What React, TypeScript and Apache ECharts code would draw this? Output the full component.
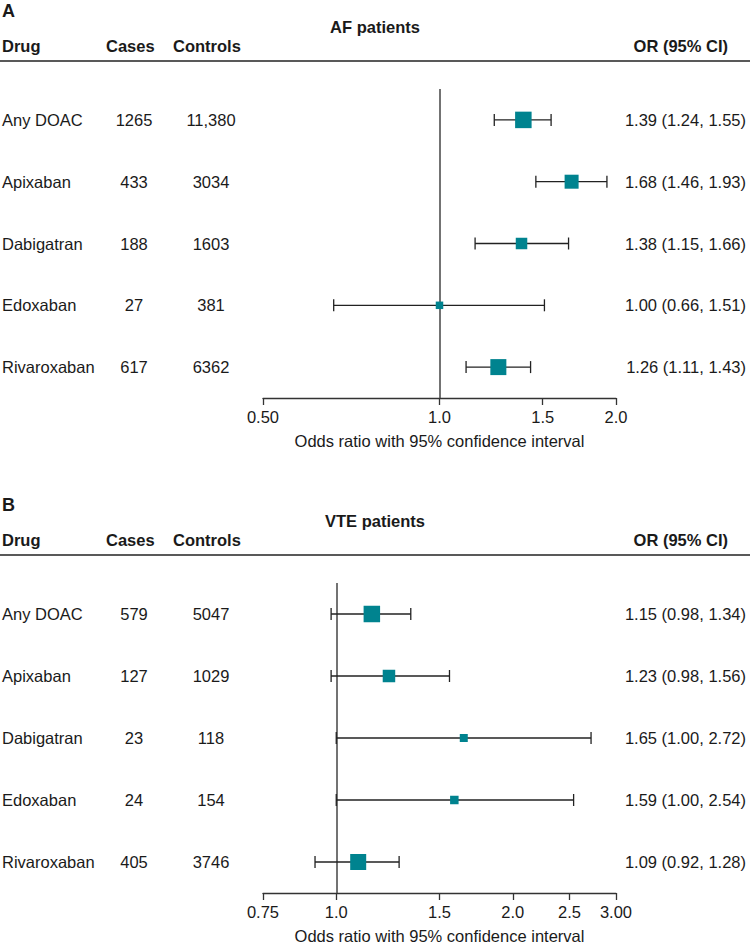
import React, { useEffect, useRef } from "react";
import * as echarts from "echarts";

const drugs = ["Any DOAC", "Apixaban", "Dabigatran", "Edoxaban", "Rivaroxaban"];

const afCases = [1265, 433, 188, 27, 617];
const afControls = [11380, 3034, 1603, 381, 6362];
const afOR = [1.39, 1.68, 1.38, 1.0, 1.26];
const afLo = [1.24, 1.46, 1.15, 0.66, 1.11];
const afHi = [1.55, 1.93, 1.66, 1.51, 1.43];
const afWeight = [16.5, 14, 11.5, 7.5, 16];

const vteCases = [579, 127, 23, 24, 405];
const vteControls = [5047, 1029, 118, 154, 3746];
const vteOR = [1.15, 1.23, 1.65, 1.59, 1.09];
const vteLo = [0.98, 0.98, 1.0, 1.0, 0.92];
const vteHi = [1.34, 1.56, 2.72, 2.54, 1.28];
const vteWeight = [16.5, 12.5, 8, 8.5, 16];

const afTicks = [0.5, 1.0, 1.5, 2.0];
const afTickLabels = ["0.50", "1.0", "1.5", "2.0"];
const vteTicks = [0.75, 1.0, 1.5, 2.0, 2.5, 3.0];
const vteTickLabels = ["0.75", "1.0", "1.5", "2.0", "2.5", "3.00"];

const FONT = '"Liberation Sans", Arial, Helvetica, sans-serif';
const TEAL = "#00838f";
const INK = "#1a1a1a";
const FS = 16.5;

const fmtCount = (n: number) => (n >= 10000 ? n.toLocaleString("en-US") : String(n));
const fmtOR = (o: number, l: number, h: number) =>
  `${o.toFixed(2)} (${l.toFixed(2)}, ${h.toFixed(2)})`;

function txt(text: string, x: number, y: number, align: string, bold = false, size = FS) {
  return {
    type: "text",
    x,
    y,
    style: {
      text,
      fill: INK,
      font: `${bold ? "bold " : ""}${size}px ${FONT}`,
      align,
      verticalAlign: "middle",
      textAlign: align,
      textVerticalAlign: "middle",
    },
  };
}

function panelSeries(
  gi: number,
  cases: number[],
  controls: number[],
  or: number[],
  lo: number[],
  hi: number[],
  weight: number[]
) {
  const rows = drugs.map((_, i) => i + 1);
  return [
    {
      type: "custom",
      xAxisIndex: gi,
      yAxisIndex: gi,
      clip: false,
      encode: { x: [0, 1], y: 2 },
      data: rows.map((r, i) => [Math.log(lo[i]), Math.log(hi[i]), r]),
      renderItem: (params: any, api: any) => {
        const p1 = api.coord([api.value(0), api.value(2)]);
        const p2 = api.coord([api.value(1), api.value(2)]);
        const y = p1[1];
        const c = 6;
        const st = { stroke: "#222", lineWidth: 1.3 };
        return {
          type: "group",
          children: [
            { type: "line", shape: { x1: p1[0], y1: y, x2: p2[0], y2: y }, style: st },
            { type: "line", shape: { x1: p1[0], y1: y - c, x2: p1[0], y2: y + c }, style: st },
            { type: "line", shape: { x1: p2[0], y1: y - c, x2: p2[0], y2: y + c }, style: st },
          ],
        };
      },
      z: 3,
    },
    {
      type: "scatter",
      xAxisIndex: gi,
      yAxisIndex: gi,
      symbol: "rect",
      itemStyle: { color: TEAL, opacity: 1 },
      data: rows.map((r, i) => ({ value: [Math.log(or[i]), r], symbolSize: weight[i] })),
      z: 4,
      markLine: {
        silent: true,
        symbol: "none",
        label: { show: false },
        lineStyle: { color: "#444", width: 1.5, type: "solid" },
        data: [{ xAxis: 0 }],
        z: 2,
      },
    },
    {
      type: "custom",
      xAxisIndex: gi,
      yAxisIndex: gi,
      clip: false,
      encode: { x: 0, y: 1 },
      data: rows.map((r) => [0, r]),
      renderItem: (params: any, api: any) => {
        const i = params.dataIndex;
        const y = api.coord([0, api.value(1)])[1];
        return {
          type: "group",
          children: [
            txt(drugs[i], 2, y, "left"),
            txt(fmtCount(cases[i]), 134, y, "center"),
            txt(fmtCount(controls[i]), 211, y, "center"),
            txt(fmtOR(or[i], lo[i], hi[i]), 746, y, "right"),
          ],
        };
      },
      z: 5,
    },
  ];
}

function xAxisFor(gi: number, ticks: number[], labels: string[]) {
  const lv = ticks.map((t) => Math.log(t));
  return {
    type: "value",
    gridIndex: gi,
    min: lv[0],
    max: lv[lv.length - 1],
    name: "Odds ratio with 95% confidence interval",
    nameLocation: "middle",
    nameGap: 34,
    nameTextStyle: { color: INK, fontSize: FS, fontFamily: FONT },
    axisLine: { show: true, lineStyle: { color: "#333", width: 1.3 } },
    axisTick: { show: true, length: 7, customValues: lv, lineStyle: { color: "#333", width: 1.3 } },
    splitLine: { show: false },
    axisLabel: {
      customValues: lv,
      margin: 10,
      color: INK,
      fontSize: FS,
      fontFamily: FONT,
      formatter: (v: number) => {
        let best = 0;
        lv.forEach((l, k) => {
          if (Math.abs(l - v) < Math.abs(lv[best] - v)) best = k;
        });
        return labels[best];
      },
    },
  };
}

function headerGraphics(letter: string, title: string, top: number) {
  return [
    txt(letter, 2, top, "left", true, 18),
    txt(title, 375, top + 16, "center", true),
    txt("Drug", 2, top + 35, "left", true),
    txt("Cases", 106, top + 35, "left", true),
    txt("Controls", 173, top + 35, "left", true),
    txt("OR (95% CI)", 728, top + 35, "right", true),
    {
      type: "line",
      shape: { x1: 0, y1: top + 50, x2: 750, y2: top + 50 },
      style: { stroke: "#222", lineWidth: 1.3 },
    },
  ];
}

export default function App() {
  const ref = useRef<HTMLDivElement>(null);
  useEffect(() => {
    document.body.style.margin = "0";
    if (!ref.current) return;
    const chart = echarts.init(ref.current, null, { renderer: "svg" });
    chart.setOption({
      animation: false,
      backgroundColor: "#ffffff",
      grid: [
        { left: 263, right: 134, top: 89, height: 309 },
        { left: 263, right: 134, top: 583, height: 310 },
      ],
      xAxis: [xAxisFor(0, afTicks, afTickLabels), xAxisFor(1, vteTicks, vteTickLabels)],
      yAxis: [0, 1].map((gi) => ({
        type: "value",
        gridIndex: gi,
        min: 0.5,
        max: 5.5,
        inverse: true,
        show: false,
      })),
      graphic: [...headerGraphics("A", "AF patients", 11), ...headerGraphics("B", "VTE patients", 505)],
      series: [
        ...panelSeries(0, afCases, afControls, afOR, afLo, afHi, afWeight),
        ...panelSeries(1, vteCases, vteControls, vteOR, vteLo, vteHi, vteWeight),
      ],
    });
    return () => chart.dispose();
  }, []);
  return <div ref={ref} style={{ width: 750, height: 948 }} />;
}
